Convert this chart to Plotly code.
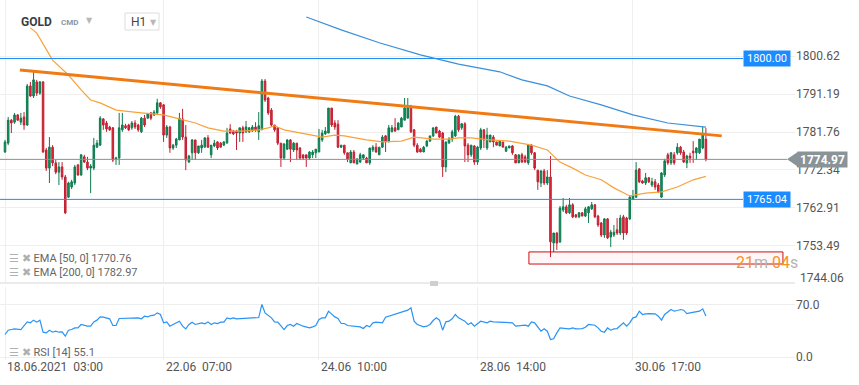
import plotly.graph_objects as go

# ---------------- data ----------------
opens = [1776.8,1779.0,1784.7,1784.2,1786.0,1784.2,1785.5,1783.5,1793.2,1790.7,
         1794.2,1791.4,1794.2,1777.3,1772.8,1778.0,1774.1,1771.8,1773.1,1770.6,
         1765.6,1768.1,1769.1,1773.6,1771.1,1775.6,1774.3,1772.8,1772.8,1778.0,
         1778.5,1785.0,1784.0,1783.0,1782.8,1775.1,1775.3,1782.3,1783.3,1783.5,
         1782.8,1784.0,1783.5,1781.8,1785.2,1785.2,1786.5,1786.0,1786.5,1789.0,
         1788.5,1781.0,1783.0,1777.8,1778.5,1779.8,1785.0,1780.5,1774.3,1776.6,
         1779.8,1776.6,1777.8,1778.0,1780.3,1776.1,1778.3,1779.3,1779.0,1778.5,
         1779.0,1782.5,1782.0,1782.0,1781.5,1782.8,1781.8,1781.8,1782.0,1783.0,
         1781.8,1782.3,1794.4,1790.2,1787.2,1783.5,1782.8,1779.0,1775.3,1777.5,
         1779.8,1777.3,1779.0,1777.8,1776.1,1776.1,1775.3,1776.1,1776.6,1776.8,
         1779.8,1781.3,1781.5,1787.7,1784.0,1783.7,1778.0,1778.5,1776.6,1774.1,
         1776.8,1773.8,1774.3,1775.3,1775.3,1774.1,1777.3,1778.0,1776.1,1778.0,
         1780.8,1779.3,1781.8,1782.8,1782.3,1783.0,1784.7,1785.2,1788.0,1782.3,
         1778.5,1777.5,1776.8,1778.3,1779.5,1780.8,1783.0,1782.0,1781.5,1773.1,
         1779.0,1780.0,1780.8,1785.7,1782.8,1783.8,1778.5,1776.1,1778.3,1774.3,
         1777.8,1782.3,1777.8,1779.3,1780.5,1779.3,1778.3,1779.3,1777.0,1777.8,
         1778.3,1776.1,1774.1,1776.1,1775.6,1774.1,1778.5,1776.6,1772.3,1769.1,
         1772.1,1769.1,1770.6,1754.2,1756.7,1754.5,1762.4,1763.2,1761.7,1763.7,
         1761.2,1760.7,1761.7,1760.9,1761.7,1762.7,1763.7,1760.9,1759.2,1756.2,
         1760.2,1755.7,1756.2,1757.5,1756.7,1760.7,1760.4,1760.2,1765.1,1765.6,
         1772.6,1769.6,1769.1,1770.4,1768.6,1769.4,1768.6,1765.6,1771.1,1776.1,
         1774.1,1776.1,1776.6,1778.0,1776.8,1774.1,1775.8,1777.0,1776.6,1776.6,
         1777.8,1780.0]
highs = [1779.8,1785.5,1785.0,1786.5,1786.2,1786.5,1786.7,1793.7,1794.2,1796.7,
         1794.7,1794.4,1794.4,1777.8,1780.5,1778.5,1774.8,1774.3,1774.3,1771.1,
         1769.4,1769.9,1773.6,1773.8,1776.3,1776.1,1775.6,1773.8,1780.3,1779.8,
         1785.7,1785.2,1784.5,1783.3,1783.0,1775.6,1786.5,1786.5,1783.8,1783.8,
         1784.5,1784.7,1783.8,1785.5,1786.0,1786.5,1786.7,1787.2,1790.0,1789.2,
         1788.7,1783.5,1783.3,1778.8,1780.3,1786.5,1787.5,1783.5,1776.1,1780.0,
         1779.8,1778.3,1779.8,1780.5,1781.0,1778.5,1779.8,1779.5,1779.3,1779.5,
         1782.8,1783.7,1782.3,1782.3,1782.8,1783.3,1784.5,1783.0,1783.5,1784.2,
         1786.7,1794.9,1794.9,1790.5,1787.7,1783.5,1783.0,1779.0,1779.0,1780.0,
         1780.0,1779.3,1779.0,1778.0,1776.1,1776.1,1777.0,1777.3,1777.5,1782.5,
         1782.3,1783.0,1787.7,1787.7,1784.7,1784.7,1778.5,1778.5,1776.6,1777.3,
         1777.3,1775.1,1776.6,1776.1,1775.6,1777.8,1778.5,1779.0,1778.0,1781.0,
         1781.0,1783.5,1783.5,1785.2,1784.2,1785.5,1790.2,1790.2,1788.5,1782.5,
         1779.0,1777.8,1778.3,1779.8,1780.8,1782.8,1783.0,1782.3,1781.8,1779.3,
         1780.5,1782.3,1786.0,1786.0,1784.0,1784.2,1779.0,1778.5,1778.5,1778.3,
         1782.8,1782.5,1782.8,1781.0,1781.0,1779.3,1779.5,1779.3,1778.3,1778.3,
         1778.5,1776.3,1776.1,1776.6,1776.1,1778.8,1778.8,1776.8,1772.3,1772.3,
         1772.6,1772.3,1775.8,1756.7,1756.9,1763.4,1765.4,1763.7,1765.4,1764.1,
         1761.4,1761.9,1761.9,1763.2,1763.4,1764.4,1763.9,1761.2,1759.4,1760.4,
         1760.4,1757.5,1758.7,1760.4,1761.2,1761.2,1760.7,1766.1,1767.4,1774.3,
         1772.8,1769.9,1771.6,1770.6,1770.4,1770.1,1769.1,1771.8,1775.1,1776.6,
         1776.8,1776.8,1779.0,1778.3,1777.3,1776.1,1776.6,1779.5,1778.0,1780.0,
         1783.0,1782.8]
lows = [1776.6,1778.5,1781.5,1783.8,1784.5,1783.5,1782.3,1783.3,1790.5,1790.2,
        1790.7,1791.0,1776.6,1772.1,1769.1,1773.3,1771.3,1768.6,1769.9,1761.4,
        1765.4,1767.6,1768.6,1770.9,1770.9,1774.1,1772.3,1766.6,1772.3,1777.8,
        1778.3,1782.3,1781.8,1782.0,1774.3,1773.6,1773.6,1781.8,1782.5,1782.0,
        1782.3,1782.5,1781.8,1781.5,1783.0,1785.0,1784.7,1785.7,1786.0,1787.5,
        1779.3,1780.3,1776.6,1777.3,1777.8,1779.8,1779.8,1772.3,1774.1,1774.8,
        1774.8,1776.3,1776.6,1778.0,1777.8,1775.3,1778.0,1777.3,1778.0,1778.3,
        1779.0,1781.3,1781.0,1777.3,1779.3,1779.3,1781.5,1781.5,1781.8,1781.8,
        1779.8,1782.3,1789.2,1786.0,1783.0,1781.8,1778.5,1773.1,1774.8,1777.3,
        1774.3,1776.8,1774.8,1774.8,1774.8,1773.1,1774.8,1775.3,1775.3,1776.8,
        1779.3,1781.0,1781.5,1783.0,1782.3,1777.8,1777.8,1776.1,1774.3,1774.1,
        1774.1,1773.8,1774.1,1774.8,1774.1,1773.6,1776.8,1776.6,1776.1,1777.8,
        1776.8,1779.3,1781.8,1781.8,1782.3,1783.0,1784.7,1785.2,1781.5,1778.0,
        1776.6,1776.8,1776.8,1778.0,1779.3,1780.5,1781.5,1780.3,1770.6,1771.8,
        1779.0,1779.3,1780.5,1781.8,1782.3,1774.3,1774.3,1775.6,1773.6,1773.6,
        1777.3,1777.8,1777.3,1779.3,1778.0,1778.5,1778.3,1778.0,1776.8,1777.8,
        1776.1,1774.1,1774.1,1774.1,1774.1,1773.6,1776.1,1772.3,1767.4,1768.1,
        1768.6,1768.6,1750.7,1752.0,1752.5,1754.2,1761.9,1761.4,1761.4,1760.4,
        1760.4,1760.4,1760.9,1760.7,1759.2,1762.4,1760.4,1758.2,1755.7,1755.5,
        1755.2,1753.2,1755.7,1756.2,1756.2,1755.0,1756.2,1759.9,1764.9,1765.4,
        1769.1,1768.9,1768.6,1769.1,1768.1,1767.4,1766.6,1765.4,1770.6,1773.6,
        1773.6,1773.6,1776.1,1776.1,1774.1,1772.8,1774.1,1774.1,1774.8,1776.3,
        1777.5,1774.5]
closes = [1779.3,1784.7,1784.0,1786.0,1784.7,1785.2,1783.5,1793.2,1790.7,1794.7,
          1791.4,1794.2,1776.8,1772.8,1778.0,1774.1,1771.8,1773.1,1770.6,1761.7,
          1769.1,1769.4,1773.1,1771.1,1776.1,1774.3,1772.8,1773.3,1778.5,1779.0,
          1785.2,1783.5,1782.5,1782.3,1774.8,1775.3,1782.8,1783.5,1782.8,1782.3,
          1784.0,1783.0,1782.3,1785.2,1783.5,1786.2,1785.2,1786.7,1789.0,1788.0,
          1781.0,1783.0,1777.8,1778.5,1780.0,1785.2,1780.5,1774.8,1775.8,1779.8,
          1776.6,1778.3,1778.5,1780.3,1778.0,1778.5,1779.0,1777.8,1778.0,1779.3,
          1781.5,1781.5,1781.3,1781.5,1782.8,1781.5,1783.0,1782.8,1783.0,1782.3,
          1783.3,1794.4,1789.7,1786.5,1783.5,1782.3,1779.0,1775.3,1778.8,1779.8,
          1777.5,1779.0,1777.3,1775.3,1775.3,1775.3,1776.8,1776.8,1777.5,1780.3,
          1781.5,1782.0,1787.7,1783.5,1783.0,1778.0,1778.5,1776.6,1775.1,1776.8,
          1774.1,1775.1,1776.1,1776.1,1774.1,1777.8,1778.0,1776.8,1778.0,1780.5,
          1779.3,1782.8,1782.8,1782.0,1784.0,1785.2,1787.7,1788.0,1781.8,1778.5,
          1776.8,1776.8,1778.0,1779.5,1780.8,1782.8,1781.5,1780.5,1773.1,1779.3,
          1780.0,1781.8,1785.7,1782.3,1783.8,1778.3,1776.1,1778.5,1774.3,1778.0,
          1782.3,1779.8,1781.0,1781.0,1779.3,1778.5,1779.5,1778.0,1778.0,1778.3,
          1776.6,1774.1,1776.1,1774.3,1774.3,1778.5,1776.6,1772.8,1769.4,1772.1,
          1769.1,1770.6,1754.5,1756.7,1754.2,1762.9,1763.2,1761.7,1763.7,1760.7,
          1760.7,1761.7,1760.9,1762.7,1763.2,1763.7,1760.7,1758.7,1756.2,1760.2,
          1755.5,1756.9,1756.9,1756.7,1760.4,1756.7,1756.7,1765.6,1765.9,1772.3,
          1769.4,1769.1,1770.4,1769.4,1769.4,1768.1,1766.9,1771.6,1774.6,1774.1,
          1776.6,1774.1,1778.0,1776.6,1774.3,1775.8,1775.3,1776.6,1777.8,1780.0,
          1781.0,1774.97]

ema50_idx = [8,10,15,20,24,27,30,33,35,43,50,54,60,64,69,75,80,83,85,88,94,98,100,
             104,107,110,114,119,125,129,131,135,140,143,147,153,159,166,171,175,
             179,183,188,192,197,202,207,212,217,221]
ema50_val = [1807.6,1806.3,1799.6,1795.9,1792.2,1789.7,1789.0,1788.0,1787.2,1786.5,
             1786.0,1785.2,1784.0,1782.8,1782.0,1782.0,1782.3,1782.8,1783.3,1782.3,
             1781.5,1780.8,1780.5,1781.0,1780.8,1780.3,1779.8,1779.3,1779.5,1780.5,
             1780.3,1780.0,1780.0,1780.3,1780.3,1779.8,1779.5,1778.5,1777.3,1774.3,
             1772.8,1771.1,1769.9,1767.9,1765.9,1766.6,1766.9,1768.1,1769.9,1770.76]

ema200_idx = [95,106,118,131,143,156,163,171,178,188,198,209,221]
ema200_val = [1810.3,1807.1,1803.9,1800.9,1798.6,1796.7,1794.7,1793.2,1790.7,
              1788.5,1786.0,1784.0,1782.97]

trend_idx = [4.7, 226.0]
trend_val = [1797.15, 1780.8]

rsi_idx = [0,1,2,3,5,7,8,9,10,11,12,13,14,15,16,17,18,19,20,21,22,23,24,25,26,27,
           28,29,30,31,33,34,35,36,37,40,42,43,44,45,46,47,48,49,50,51,52,53,55,
           56,57,58,59,60,62,63,64,65,66,67,68,69,70,71,72,73,75,77,78,79,80,81,
           82,84,85,86,87,88,89,90,91,92,94,95,96,97,98,99,100,101,102,104,105,
           106,107,108,110,111,112,113,114,115,116,117,119,120,121,122,123,124,
           126,127,128,129,130,132,133,134,135,136,137,138,139,140,141,142,143,
           144,145,146,147,148,149,150,152,153,154,156,157,158,160,161,163,164,
           165,166,167,168,169,170,171,172,173,174,175,177,178,179,180,182,183,
           184,186,187,188,189,190,191,192,193,195,196,197,198,199,200,201,202,
           203,205,206,207,208,210,211,212,213,214,215,216,218,219,220,221]
rsi_val = [30.3,36.1,37.0,37.9,37.0,47.3,46.0,49.6,46.9,49.6,33.4,32.5,36.1,33.4,
           34.7,33.4,33.8,28.0,36.1,37.0,39.2,39.2,43.8,42.4,41.5,41.5,47.3,49.6,
           54.0,53.6,51.4,42.4,42.4,51.8,51.8,51.8,52.7,51.4,54.9,54.0,55.8,56.3,
           59.4,57.2,46.0,47.3,41.5,43.8,48.2,41.5,37.9,43.8,46.9,43.8,46.0,44.7,
           47.3,43.8,46.0,45.1,46.9,46.9,52.7,51.4,52.7,51.4,51.8,52.7,52.7,52.7,
           53.1,70.7,59.4,52.7,47.3,46.9,41.5,37.0,42.4,43.8,41.5,45.1,41.5,40.6,
           39.2,40.6,42.4,50.5,52.7,52.7,61.7,54.0,51.8,45.1,45.1,42.4,41.5,40.1,
           40.6,38.3,42.4,40.6,46.0,46.9,46.0,53.6,54.9,57.2,58.5,59.4,61.7,63.0,
           66.2,48.2,43.8,40.6,41.5,43.8,49.1,52.7,49.6,36.1,47.3,48.2,51.4,57.2,
           52.7,50.5,48.2,43.8,46.0,41.5,45.1,48.2,46.0,48.2,47.3,46.9,46.0,46.0,
           46.0,41.5,42.4,42.8,41.5,47.3,46.0,40.6,34.7,37.9,34.7,23.6,24.5,32.5,
           39.2,38.3,37.9,39.2,37.9,38.3,40.1,43.8,42.8,39.2,34.7,33.4,39.2,36.1,
           37.9,38.3,46.0,41.5,46.0,52.7,54.0,61.7,57.2,58.1,58.5,58.1,54.9,49.6,
           57.2,63.9,61.7,62.6,63.9,63.0,58.5,59.4,60.3,61.7,64.8,55.1]

tick_idx = [0, 50, 99, 149, 198]
tick_text = ["18.06.2021\u00a0\u00a003:00", "22.06\u00a0\u00a007:00", "24.06\u00a0\u00a010:00",
             "28.06\u00a0\u00a014:00", "30.06\u00a0\u00a017:00"]
price_ticks = [1800.62, 1791.19, 1781.76, 1772.34, 1762.91, 1753.49]
price_tick_bottom = 1744.06
rsi_ticks = [0, 70]

level_high = 1800.00
level_low = 1765.04
last_price = 1774.97
zone_low, zone_high = 1749.0, 1752.0
zone_idx = [165.2, 245.3]
ema50_last, ema200_last, rsi_last = 1770.76, 1782.97, 55.1

# ---------------- geometry ----------------
W, H = 859, 385
ML, MR, MT, MB = 0, 64, 0, 25
PW, PH = W - ML - MR, H - MT - MB
main_top, main_bot = 0, 283
rsi_top, rsi_bot = 287, 360
y_range = [1744.29, 1814.52]
x_range = [-1.58, 249.1]

def px_to_paper_y(py):
    return 1 - py / PH

def price_to_paper(p):
    d0, d1 = px_to_paper_y(main_bot), px_to_paper_y(main_top)
    return d0 + (p - y_range[0]) / (y_range[1] - y_range[0]) * (d1 - d0)

def px_to_paper_x(px):
    return (px - ML) / PW

idx = list(range(len(opens)))
FONT = "Roboto"
GRID = "#eeeeee"

fig = go.Figure()
fig.add_trace(go.Candlestick(
    x=idx, open=opens, high=highs, low=lows, close=closes,
    increasing=dict(fillcolor="#14915f", line=dict(color="#0e7a4f", width=1)),
    decreasing=dict(fillcolor="#e0283a", line=dict(color="#c21f30", width=1)),
    whiskerwidth=0, showlegend=False, xaxis="x", yaxis="y"))
fig.add_trace(go.Scatter(x=ema50_idx, y=ema50_val, mode="lines",
                         line=dict(color="#f9a23a", width=1.2), showlegend=False))
fig.add_trace(go.Scatter(x=ema200_idx, y=ema200_val, mode="lines",
                         line=dict(color="#3b8fd8", width=1.2), showlegend=False))
fig.add_trace(go.Scatter(x=trend_idx, y=trend_val, mode="lines",
                         line=dict(color="#f07b14", width=3), showlegend=False))
fig.add_trace(go.Scatter(x=rsi_idx, y=rsi_val, mode="lines", xaxis="x2", yaxis="y2",
                         line=dict(color="#2a93f5", width=1.2), showlegend=False))

shapes = []
for lvl in (level_high, level_low):
    shapes.append(dict(type="line", xref="paper", yref="y", x0=0, x1=px_to_paper_x(743),
                       y0=lvl, y1=lvl, line=dict(color="#1f8ef0", width=1)))
shapes.append(dict(type="line", xref="paper", yref="y", x0=0, x1=px_to_paper_x(787),
                   y0=last_price, y1=last_price, line=dict(color="#8a8f93", width=1)))
shapes.append(dict(type="rect", xref="x", yref="y", x0=zone_idx[0], x1=zone_idx[1],
                   y0=zone_low, y1=zone_high, line=dict(color="#cc1111", width=1),
                   fillcolor="rgba(255,0,0,0.03)"))
sep = px_to_paper_y(main_bot)
shapes.append(dict(type="line", xref="paper", yref="paper", x0=0, x1=1, y0=sep, y1=sep,
                   line=dict(color="#d8d8d8", width=1)))
shapes.append(dict(type="rect", xref="paper", yref="paper", x0=px_to_paper_x(430),
                   x1=px_to_paper_x(438), y0=px_to_paper_y(286), y1=px_to_paper_y(281),
                   line=dict(width=0), fillcolor="#cfcfcf"))
shapes.append(dict(type="rect", xref="paper", yref="paper", x0=px_to_paper_x(125),
                   x1=px_to_paper_x(159), y0=px_to_paper_y(30), y1=px_to_paper_y(13),
                   line=dict(color="#dddddd", width=1), fillcolor="white"))
# arrow tip of the last-price tag
yc = price_to_paper(last_price)
dy = 7.5 / PH
xa, xb = px_to_paper_x(787), px_to_paper_x(798)
shapes.append(dict(type="path", xref="paper", yref="paper",
                   path=f"M {xa},{yc} L {xb},{yc+dy} L {xb},{yc-dy} Z",
                   fillcolor="#8a9398", line=dict(width=0)))

ann = []
for t, txt in zip(tick_idx, tick_text):
    ann.append(dict(x=t, xref="x2", y=px_to_paper_y(367), yref="paper", text=txt,
                    xanchor="left", yanchor="middle", showarrow=False,
                    font=dict(family=FONT, size=12, color="#555")))
ann.append(dict(x=1, xref="paper", xshift=3, y=px_to_paper_y(278), yref="paper",
                text=f"{price_tick_bottom:.2f}", xanchor="left", yanchor="middle",
                showarrow=False, font=dict(family=FONT, size=12, color="#555")))
for lvl in (level_high, level_low):
    ann.append(dict(x=px_to_paper_x(767), xref="paper", y=lvl, yref="y",
                    xanchor="center", yanchor="middle",
                    text=f"{lvl:.2f}", showarrow=False, bgcolor="#1a8cff",
                    width=46, height=15, borderpad=0,
                    font=dict(family=FONT, size=11, color="white")))
ann.append(dict(x=px_to_paper_x(822), xref="paper", y=yc, yref="paper",
                xanchor="center", yanchor="middle",
                text=f"<b>{last_price:.2f}</b>", showarrow=False,
                bgcolor="#8a9398", width=49, height=15, borderpad=0,
                font=dict(family=FONT, size=12, color="white")))
ann.append(dict(x=px_to_paper_x(734), xref="paper", y=px_to_paper_y(262), yref="paper",
                xanchor="left", yanchor="middle", showarrow=False,
                text="<span style='color:#f7931e'>21</span><span style='color:#b5b5b5'>m</span>"
                     " <span style='color:#f7931e'>04</span><span style='color:#b5b5b5'>s</span>",
                font=dict(family=FONT, size=16)))
icons = "<span style='color:#b0b0b0'>☰ ✖</span> "
for ypx, txt in ((258, f"EMA [50, 0] {ema50_last:.2f}"),
                 (272, f"EMA [200, 0] {ema200_last:.2f}"),
                 (352, f"RSI [14] {rsi_last}")):
    ann.append(dict(x=px_to_paper_x(7), xref="paper", y=px_to_paper_y(ypx), yref="paper",
                    xanchor="left", yanchor="middle", showarrow=False, text=icons + txt,
                    font=dict(family=FONT, size=11, color="#666")))
ann.append(dict(x=px_to_paper_x(19), xref="paper", y=px_to_paper_y(22), yref="paper",
                xanchor="left", yanchor="middle", showarrow=False, text="<b>GOLD</b>",
                font=dict(family=FONT, size=12, color="#3a3f44")))
ann.append(dict(x=px_to_paper_x(59), xref="paper", y=px_to_paper_y(22), yref="paper",
                xanchor="left", yanchor="middle", showarrow=False, text="<b>CMD</b>",
                font=dict(family=FONT, size=8, color="#8a96a3")))
ann.append(dict(x=px_to_paper_x(84), xref="paper", y=px_to_paper_y(20), yref="paper",
                xanchor="left", yanchor="middle", showarrow=False, text="▼",
                font=dict(family="DejaVu Sans", size=8, color="#b8b8b8")))
ann.append(dict(x=px_to_paper_x(129), xref="paper", y=px_to_paper_y(22), yref="paper",
                xanchor="left", yanchor="middle", showarrow=False, text="H1",
                font=dict(family=FONT, size=12, color="#444")))
ann.append(dict(x=px_to_paper_x(148), xref="paper", y=px_to_paper_y(22), yref="paper",
                xanchor="left", yanchor="middle", showarrow=False, text="▼",
                font=dict(family="DejaVu Sans", size=8, color="#b8b8b8")))

fig.update_layout(
    width=W, height=H, margin=dict(l=ML, r=MR, t=MT, b=MB),
    paper_bgcolor="white", plot_bgcolor="white", showlegend=False,
    font=dict(family=FONT, color="#555"),
    xaxis=dict(domain=[0, 1], range=x_range, anchor="y", tickvals=tick_idx,
               showticklabels=False, showgrid=True, gridcolor=GRID, zeroline=False,
               rangeslider=dict(visible=False), showline=False, ticks=""),
    xaxis2=dict(domain=[0, 1], range=x_range, anchor="y2", matches="x", tickvals=tick_idx,
                showticklabels=False, showgrid=True, gridcolor=GRID, zeroline=False,
                showline=False, ticks=""),
    yaxis=dict(domain=[px_to_paper_y(main_bot), 1], range=y_range, side="right",
               tickvals=price_ticks, ticktext=[f"{v:.2f}" for v in price_ticks],
               showgrid=True, gridcolor=GRID, zeroline=False, ticks="",
               tickfont=dict(family=FONT, size=12, color="#555"), anchor="x"),
    yaxis2=dict(domain=[0, px_to_paper_y(rsi_top)], range=[-4, 94.2], side="right",
                tickvals=rsi_ticks, ticktext=[f"{v:.1f}" for v in rsi_ticks],
                showgrid=True, gridcolor=GRID, zeroline=False, ticks="",
                tickfont=dict(family=FONT, size=12, color="#555"), anchor="x2"),
    shapes=shapes, annotations=ann,
)

fig.write_html("out.html")
